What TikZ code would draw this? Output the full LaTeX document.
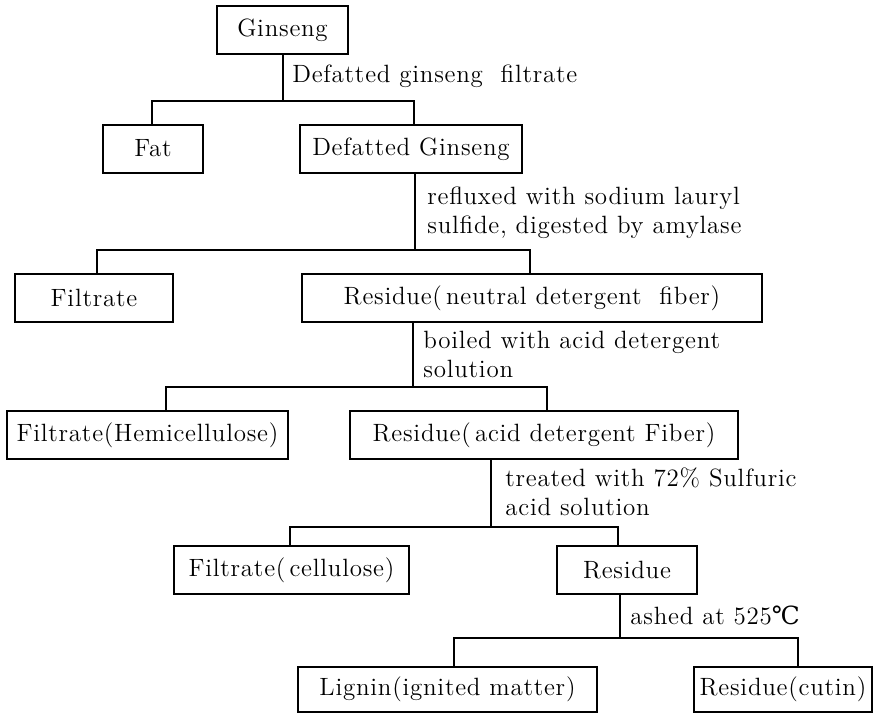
\documentclass[tikz,border=0pt]{standalone}
\usepackage{fontspec}
\setmainfont{Latin Modern Roman}[LetterSpace=3]
\newfontfamily\symfont{DejaVu Serif}
\begin{document}
\begin{tikzpicture}[x=0.5pt,y=-0.5pt,
  box/.style={draw, line width=1pt, rectangle, inner sep=0pt, minimum height=24pt,
    font=\fontsize{12.5}{14.5}\selectfont},
  lbl/.style={anchor=west, align=left, inner sep=0pt, font=\fontsize{12.5}{14.5}\selectfont},
  conn/.style={line width=1pt}]
\useasboundingbox (0,0) rectangle (875,713);

% boxes
\node[box, minimum width=65.5pt] (ginseng) at (282.5,30) {Ginseng};
\node[box, minimum width=50pt] (fat) at (153,148.5) {Fat};
\node[box, minimum width=111pt] (dg) at (411,149) {Defatted Ginseng};
\node[box, minimum width=79pt] (filt) at (94,297.5) {Filtrate};
\node[box, minimum width=230pt] (resn) at (532,298) {Residue(\,neutral detergent\ \ fiber)};
\node[box, minimum width=140.5pt] (filth) at (147.5,435) {Filtrate(Hemicellulose)};
\node[box, minimum width=194pt] (resa) at (544,435) {Residue(\,acid detergent Fiber)};
\node[box, minimum width=117.5pt] (filtc) at (291.5,570) {Filtrate(\,cellulose)};
\node[box, minimum width=70pt] (res) at (627,570) {Residue};
\node[box, minimum width=149.5pt, minimum height=22.5pt] (lignin) at (447.5,689.5) {Lignin(ignited matter)};
\node[box, minimum width=89pt, minimum height=22.5pt] (cutin) at (783,689.5) {Residue(cutin)};

% junctions
\coordinate (j1) at (283,101);
\coordinate (j2) at (415,250);
\coordinate (j3) at (413,387);
\coordinate (j4) at (491,527);
\coordinate (j5) at (620,638);

% connectors
\draw[conn] (ginseng.south -| j1) -- (j1);
\draw[conn] ([xshift=-0.5pt]fat.north) |- (j1) -| ([xshift=1.5pt]dg.north);

\draw[conn] (dg.south -| j2) -- (j2);
\draw[conn] ([xshift=1.5pt]filt.north) |- (j2) -| ([xshift=-1pt]resn.north);

\draw[conn] (resn.south -| j3) -- (j3);
\draw[conn] ([xshift=9.25pt]filth.north) |- (j3) -| ([xshift=1.5pt]resa.north);

\draw[conn] (resa.south -| j4) -- (j4);
\draw[conn] ([xshift=-0.75pt]filtc.north) |- (j4) -| ([xshift=-4.5pt]res.north);

\draw[conn] (res.south -| j5) -- (j5);
\draw[conn] ([xshift=3.25pt]lignin.north) |- (j5) -| ([xshift=7.5pt]cutin.north);

% labels
\node[lbl] (l1) at (292,76) {Defatted ginseng\ \ filtrate};
\node[lbl] (l2) at (427,212.5) {refluxed with sodium lauryl\\sulfide, digested by amylase};
\node[lbl] (l3) at (423,354) {boiled with acid detergent\\solution};
\node[lbl] (l4) at (505,491.5) {treated with 72\% Sulfuric\\acid solution};
\node[lbl] (l5) at (630,615) {ashed at 525{\symfont ℃}};
\end{tikzpicture}
\end{document}
